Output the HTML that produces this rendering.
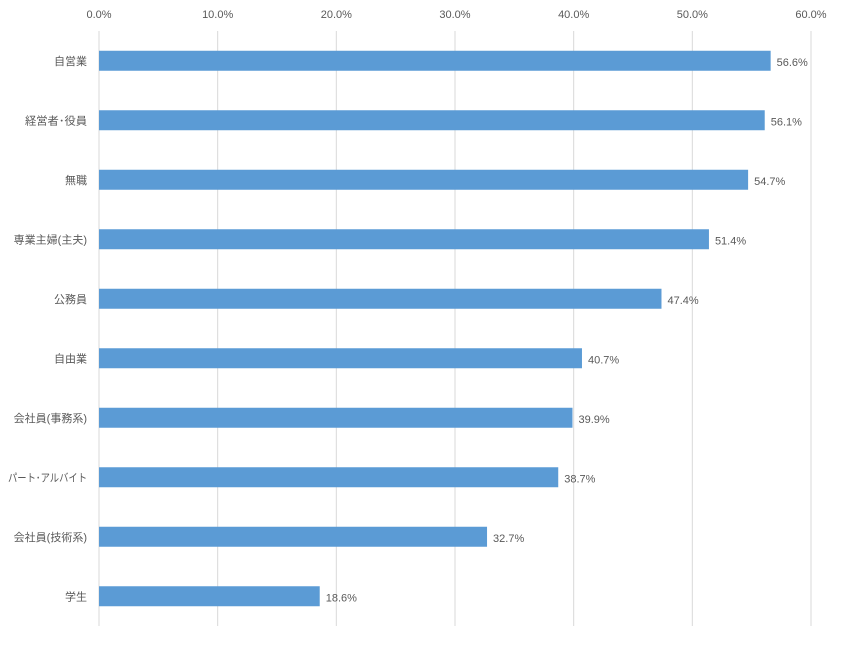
<!DOCTYPE html>
<html><head><meta charset="utf-8"><style>
body{margin:0;background:#fff;}
svg text{font-family:"Liberation Sans","Noto Sans CJK JP",sans-serif;fill:#595959;}
</style></head><body>
<svg id="chart" width="844" height="640"></svg>
<script>
const categories=["自営業","経営者･役員","無職","専業主婦(主夫)","公務員","自由業","会社員(事務系)","パート･アルバイト","会社員(技術系)","学生"];
const values=[56.6,56.1,54.7,51.4,47.4,40.7,39.9,38.7,32.7,18.6];
const ticks=[0,10,20,30,40,50,60];
const NS="http://www.w3.org/2000/svg";
const svgEl=document.getElementById('chart');
const x0=99,x1=811,plotTop=31,plotBottom=626,maxV=60;
const xs=v=>x0+(v/maxV)*(x1-x0);
const band=(plotBottom-plotTop)/categories.length;
function mk(t,a){const e=document.createElementNS(NS,t);for(const k in a)e.setAttribute(k,a[k]);svgEl.appendChild(e);return e;}
ticks.forEach(t=>{
  const g=mk('line',{x1:xs(t),x2:xs(t),y1:plotTop,y2:plotBottom,stroke:'#d9d9d9','stroke-width':1});
  
  
  const l=mk('text',{x:xs(t),y:18,'text-anchor':'middle','font-size':11});
  l.textContent=t.toFixed(1)+'%';
  
  
});
categories.forEach((c,i)=>{
  const cy=plotTop+band*(i+0.5);
  const r=mk('rect',{x:x0,y:cy-10,width:xs(values[i])-x0,height:20,fill:'#5b9bd5'});
  
  
  const cl=mk('text',{x:87,y:cy+4,'text-anchor':'end','font-size':11});
  cl.textContent=c;
  
  
  if(c.indexOf('パ')===0){cl.setAttribute('textLength',79);cl.setAttribute('lengthAdjust','spacingAndGlyphs');}
  if(c.indexOf('経')===0){cl.setAttribute('textLength',62);cl.setAttribute('lengthAdjust','spacingAndGlyphs');}
  const vl=mk('text',{x:xs(values[i])+6,y:cy+5,'font-size':11});
  vl.textContent=values[i].toFixed(1)+'%';
  
  
});
</script>
</body></html>
